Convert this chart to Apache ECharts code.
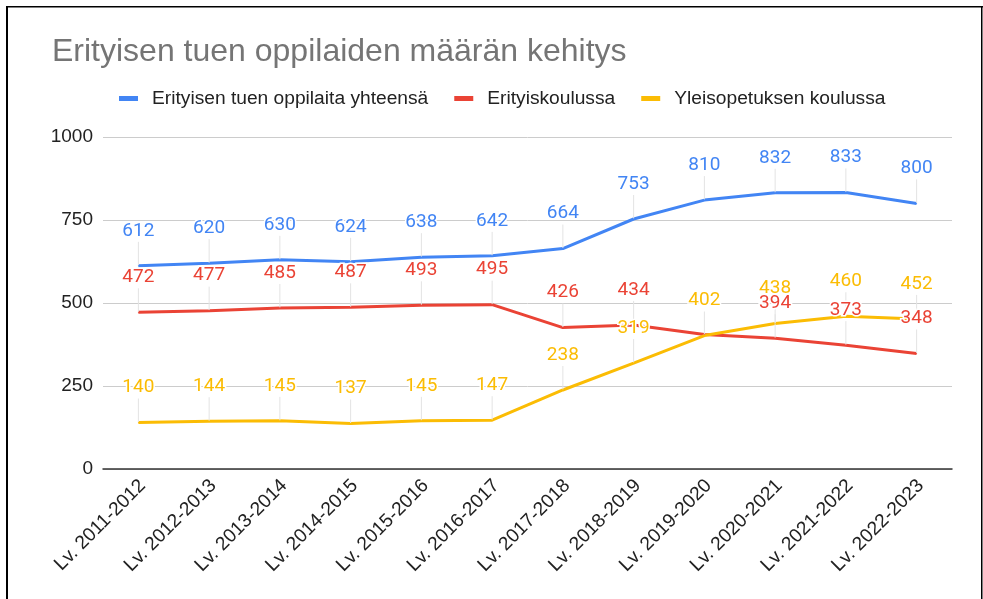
<!DOCTYPE html>
<html>
<head>
<meta charset="utf-8">
<script src="https://cdn.jsdelivr.net/npm/echarts@6/dist/echarts.min.js"></script>
<style>
html, body { margin: 0; padding: 0; background: #fff; }
#chart { width: 983px; height: 599px; }
</style>
</head>
<body>
<div id="chart"></div>
<script>
// data
var lukuvuodet = ['Lv. 2011-2012', 'Lv. 2012-2013', 'Lv. 2013-2014', 'Lv. 2014-2015',
  'Lv. 2015-2016', 'Lv. 2016-2017', 'Lv. 2017-2018', 'Lv. 2018-2019',
  'Lv. 2019-2020', 'Lv. 2020-2021', 'Lv. 2021-2022', 'Lv. 2022-2023'];
var yhteensa = [612, 620, 630, 624, 638, 642, 664, 753, 810, 832, 833, 800];
var erityiskoulussa = [472, 477, 485, 487, 493, 495, 426, 434, 405, 394, 373, 348];
var yleisopetuksessa = [140, 144, 145, 137, 145, 147, 238, 319, 402, 438, 460, 452];
var sarjat = ['Erityisen tuen oppilaita yhteensä', 'Erityiskoulussa', 'Yleisopetuksen koulussa'];
// label of red point at 2019-2020 is hidden in the original (overlaps)
var piilotetut = [[], [8], []];
var yMax = 1000, yStep = 250;

var varit = ['#4285f4', '#ea4335', '#fbbc04'];
var sans = '"Liberation Sans", Arial, sans-serif';

function sarja(i, values) {
  return {
    name: sarjat[i],
    type: 'line',
    data: values.map(function (v, j) {
      if (piilotetut[i].indexOf(j) >= 0) {
        return { value: v, label: { show: false }, labelLine: { show: false } };
      }
      return v;
    }),
    symbol: 'circle',
    symbolSize: 1,
    showSymbol: true,
    showAllSymbol: true,
    itemStyle: { color: varit[i] },
    lineStyle: { color: varit[i], width: 3 },
    label: {
      show: true,
      position: 'inside',
      color: varit[i],
      fontFamily: 'Roboto',
      fontSize: 19,
      textBorderColor: '#fff',
      textBorderWidth: 3
    },
    labelLayout: { dy: -35 },
    labelLine: { show: true, lineStyle: { color: '#e3e3e3', width: 1 } },
    emphasis: { disabled: true }
  };
}

var chart = echarts.init(document.getElementById('chart'));
var option = {
  animation: false,
  color: varit,
  title: {
    text: 'Erityisen tuen oppilaiden määrän kehitys',
    left: 52,
    top: 36,
    padding: 0,
    textStyle: { fontFamily: sans, fontSize: 32, fontWeight: 'normal', color: '#757575' }
  },
  legend: {
    left: 119,
    top: 89,
    padding: 0,
    icon: 'rect',
    itemWidth: 19,
    itemHeight: 5,
    itemGap: 26,
    textStyle: { fontFamily: sans, fontSize: 19.2, color: '#222', padding: [0, 0, 0, 9] },
    data: sarjat
  },
  grid: { left: 103, right: 31, top: 137, bottom: 130 },
  xAxis: {
    type: 'category',
    data: lukuvuodet,
    boundaryGap: true,
    axisLine: { lineStyle: { color: '#333', width: 1.5 } },
    axisTick: { show: false },
    axisLabel: {
      rotate: 45, interval: 0, margin: 18, padding: [0, -6, 0, 0],
      fontFamily: sans, fontSize: 19.2, color: '#222'
    }
  },
  yAxis: {
    type: 'value',
    min: 0,
    max: yMax,
    interval: yStep,
    axisLine: { show: false },
    axisTick: { show: false },
    axisLabel: {
      margin: 10, fontFamily: sans, fontSize: 19, color: '#222',
      formatter: function (v) { return String(v); }
    },
    splitLine: { lineStyle: { color: '#cccccc', width: 1 } }
  },
  graphic: [
    { type: 'rect', shape: { x: 6, y: 6, width: 2, height: 600 }, style: { fill: '#000' }, silent: true },
    { type: 'rect', shape: { x: 6, y: 6, width: 977, height: 1.5 }, style: { fill: '#000' }, silent: true },
    { type: 'rect', shape: { x: 981, y: 6, width: 1.5, height: 600 }, style: { fill: '#000' }, silent: true }
  ],
  series: [
    sarja(0, yhteensa),
    sarja(1, erityiskoulussa),
    sarja(2, yleisopetuksessa)
  ]
};
chart.setOption(option);
</script>
</body>
</html>
